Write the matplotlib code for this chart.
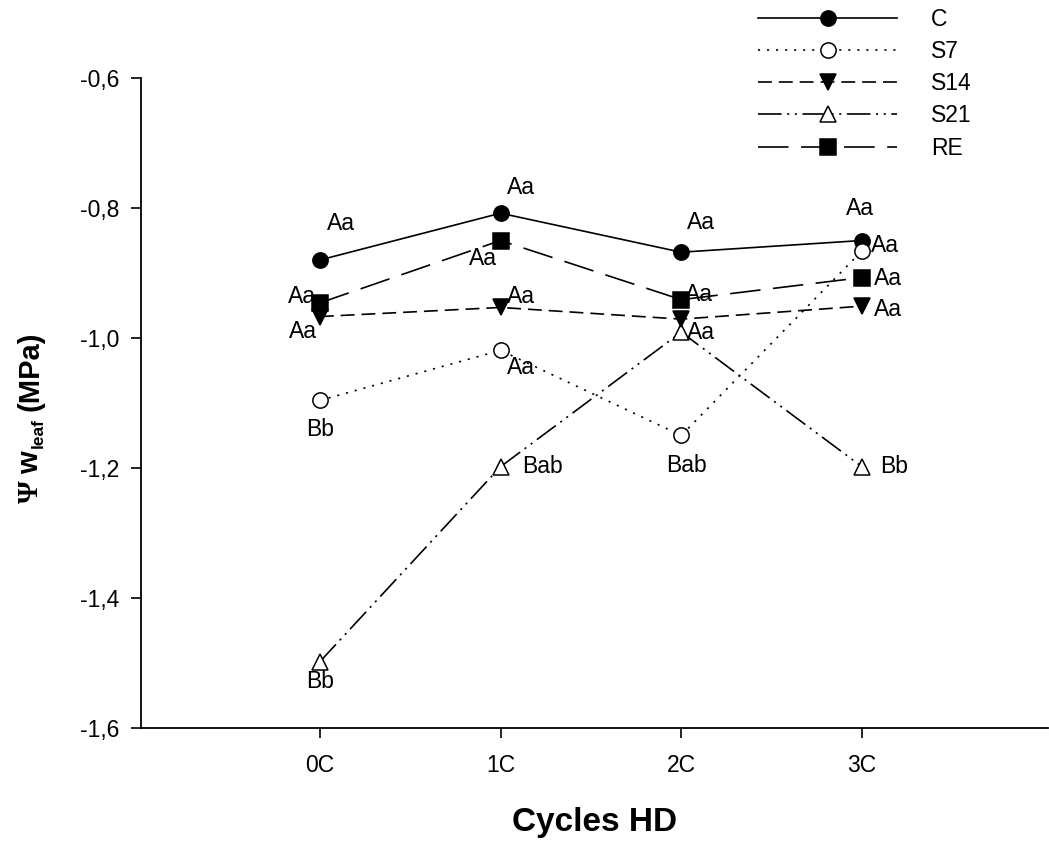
import matplotlib
matplotlib.use('Agg')
import matplotlib.pyplot as plt

plt.rcParams['font.family'] = ['Liberation Sans', 'DejaVu Sans']
plt.rcParams['lines.scale_dashes'] = False

# ---------------- data ----------------
cycles = ['0C', '1C', '2C', '3C']
series_names = ['C', 'S7', 'S14', 'S21', 'RE']
C_vals = [-0.880, -0.808, -0.868, -0.850]
S7_vals = [-1.096, -1.019, -1.150, -0.866]
S14_vals = [-0.967, -0.953, -0.971, -0.951]
S21_vals = [-1.498, -1.198, -0.991, -1.198]
RE_vals = [-0.946, -0.850, -0.941, -0.907]

C_letters = ['Aa', 'Aa', 'Aa', 'Aa']
S7_letters = ['Bb', 'Aa', 'Bab', 'Aa']
S14_letters = ['Aa', 'Aa', '', 'Aa']
S21_letters = ['Bb', 'Bab', 'Aa', 'Bb']
RE_letters = ['Aa', 'Aa', 'Aa', 'Aa']

yticks = [-1.6, -1.4, -1.2, -1.0, -0.8, -0.6]
ytick_labels = ['-1,6', '-1,4', '-1,2', '-1,0', '-0,8', '-0,6']

xlabel_text = 'Cycles HD'
ylabel_parts = ['\u03a8', 'w', 'leaf', '(MPa)']

# ---------------- styles ----------------
styles = {
    'C':   dict(dashes=(), marker='o', mfc='black', z=2.0),
    'S7':  dict(dashes=(1.5, 5), marker='o', mfc='white', z=3.0),
    'S14': dict(dashes=(10, 5), marker='v', mfc='black', z=3.5),
    'S21': dict(dashes=(17, 4, 1.5, 4, 1.5, 4), marker='^', mfc='white', z=2.5),
    'RE':  dict(dashes=(22, 9), marker='s', mfc='black', z=4.0),
}
# label offsets in pixels (dx, dy) from the point
offsets = {
    'C':   [(21, 37), (20, 26), (20, 30), (-2, 32)],
    'S7':  [(0, -29), (20, -17), (5, -30), (23, 5)],
    'S14': [(-17, -15), (20, 11), (0, 0), (26, -3)],
    'S21': [(0, -20), (42, 0), (20, 0), (32, 0)],
    'RE':  [(-18, 6), (-18, -18), (18, 5), (26, -1)],
}

values = {'C': C_vals, 'S7': S7_vals, 'S14': S14_vals, 'S21': S21_vals, 'RE': RE_vals}
letters = {'C': C_letters, 'S7': S7_letters, 'S14': S14_letters,
           'S21': S21_letters, 'RE': RE_letters}

W, H = 1049, 855
fig = plt.figure(figsize=(W / 100, H / 100), dpi=100)
ax = fig.add_axes([141 / W, 1 - 728 / H, (1048 - 141) / W, (728 - 78) / H])

x = list(range(len(cycles)))
handles = []
for name in series_names:
    st = styles[name]
    ls = '-' if len(st['dashes']) == 0 else (0, st['dashes'])
    h, = ax.plot(x, values[name], color='black', lw=1.2, linestyle=ls,
                 marker=st['marker'], ms=11, mfc=st['mfc'], mec='black',
                 mew=1.1, zorder=st['z'], label=name)
    handles.append(h)

for name in series_names:
    for i, (v, t) in enumerate(zip(values[name], letters[name])):
        if not t:
            continue
        dx, dy = offsets[name][i]
        ax.annotate(t, (x[i], v), xytext=(dx, dy), textcoords='offset pixels',
                    ha='center', va='center', fontsize=16.5, zorder=6)

ax.set_xlim(-0.99, 4.03)
ax.set_ylim(-1.6, -0.6)
ax.set_xticks(x)
ax.set_xticklabels(cycles)
ax.set_yticks(yticks)
ax.set_yticklabels(ytick_labels)
for s in ['top', 'right']:
    ax.spines[s].set_visible(False)
for s in ['left', 'bottom']:
    ax.spines[s].set_linewidth(1.3)
ax.tick_params(axis='both', direction='out', length=7.5, width=1.2,
               labelsize=16.5)
ax.tick_params(axis='y', pad=8)
ax.tick_params(axis='x', pad=11)

ax.set_xlabel(xlabel_text, fontsize=24, fontweight='bold', labelpad=22)

# y label built from pieces (Greek psi in serif, subscript 'leaf')
def ytext(py, px, s, **kw):
    fig.text(px / W, 1 - py / H, s, rotation=90, rotation_mode='anchor',
             ha='left', va='baseline', fontweight='bold', **kw)

ytext(503, 38, ylabel_parts[0], family='Liberation Serif', fontsize=21)
ytext(474, 38, ylabel_parts[1], fontsize=21)
ytext(448, 43, ylabel_parts[2], fontsize=12.5)
ytext(411, 38, ylabel_parts[3], fontsize=21)

leg = fig.legend(handles=handles, loc='upper left',
                 bbox_to_anchor=(758 / W, 1 - 8 / H), frameon=False,
                 fontsize=16.5, handlelength=6.07, handletextpad=1.48,
                 labelspacing=0.40, borderpad=0, borderaxespad=0, numpoints=1)

fig.savefig('out.png', dpi=100)
